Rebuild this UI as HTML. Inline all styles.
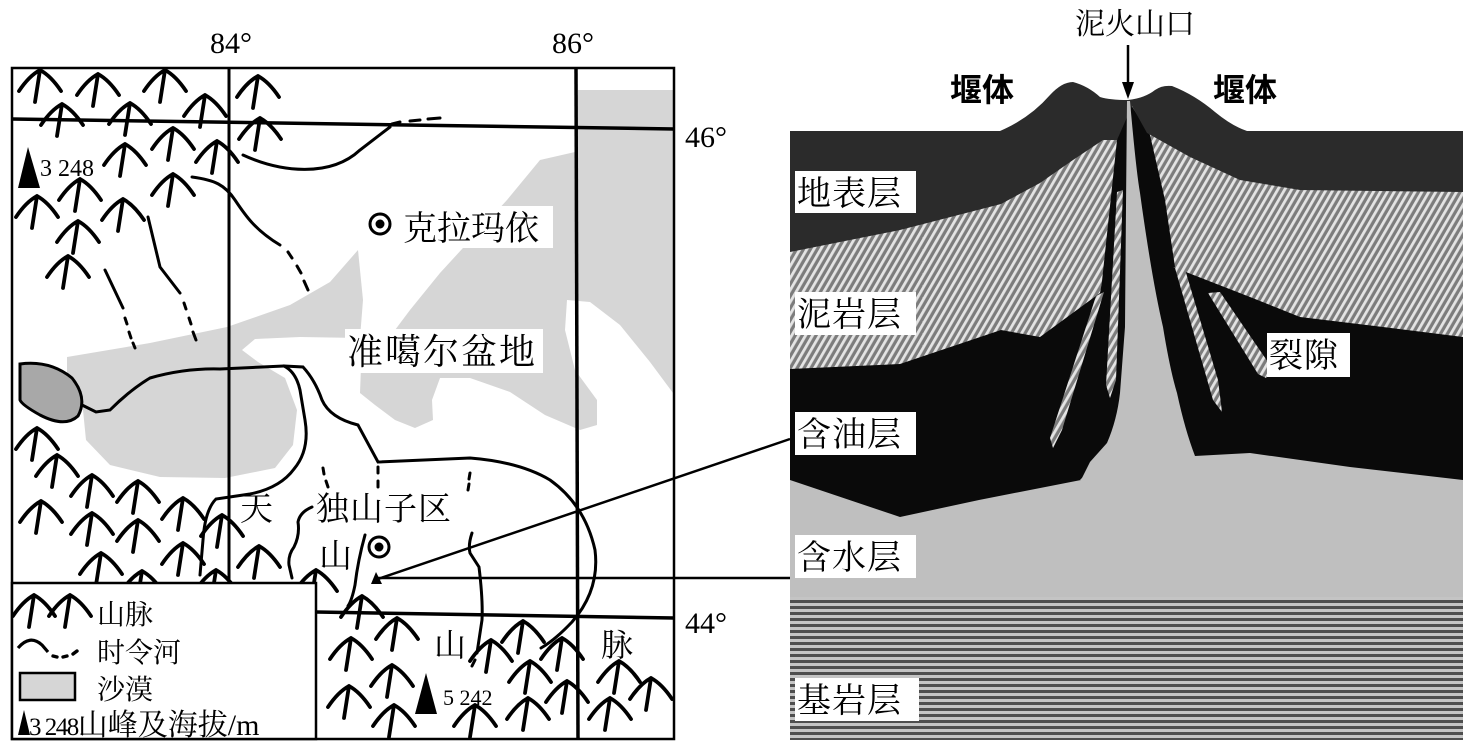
<!DOCTYPE html>
<html><head><meta charset="utf-8">
<style>
html,body{margin:0;padding:0;background:#fff;}
svg{display:block;}
text{font-family:"Liberation Serif","Noto Serif CJK SC",serif;fill:#000;}
.cjk{font-family:"Liberation Serif","Noto Serif CJK SC","Noto Sans CJK SC",serif;}
.sans{font-family:"Liberation Sans","Noto Sans CJK SC",sans-serif;}
</style></head>
<body>
<svg width="1470" height="750" viewBox="0 0 1470 750" xmlns="http://www.w3.org/2000/svg">
<defs>
<pattern id="hatch" width="6" height="6" patternUnits="userSpaceOnUse" patternTransform="rotate(30)">
<rect width="6" height="6" fill="#7c7c7c"/>
<rect x="0" y="0" width="2.8" height="6" fill="#e4e4e4"/>
</pattern>
<pattern id="bed" width="10" height="6" patternUnits="userSpaceOnUse">
<rect width="10" height="6" fill="#c4c4c4"/>
<rect y="0" width="10" height="3" fill="#4e4e4e"/>
</pattern>
<g id="mt"><path d="M-21,17 Q-11,2 0,-4 Q11,2 21,17 M0,-4 L-5,28" fill="none" stroke="#000" stroke-width="3.8" stroke-linecap="round"/></g>
</defs>

<!-- ============ MAP ============ -->
<g fill="#d6d6d6">
<path d="M67,357 L150,343 L227,327 L290,305 L330,282 L358,250 L363,300 L360,338 L300,337 L255,339 L242,350 L258,362 L285,378 L297,410 L293,445 L275,468 L225,478 L160,477 L110,465 L86,440 L82,400 L67,385 Z"/>
<path d="M410,310 L440,273 L507,200 L540,160 L575,152 L578,90 L673,90 L673,393 L650,362 L620,325 L590,302 L567,300 L565,330 L575,370 L597,400 L597,425 L580,430 L545,415 L510,392 L470,378 L440,378 L432,400 L433,420 L415,428 L395,420 L375,405 L360,393 L362,340 L380,335 L395,330 Z"/>
</g>
<path d="M20,364 Q50,360 72,378 Q88,398 78,416 Q65,428 40,415 Q22,405 20,400 Z" fill="#a8a8a8" stroke="#000" stroke-width="3"/>

<g stroke="#000" fill="none">
<rect x="12" y="68" width="662" height="671" stroke-width="2.5"/>
<line x1="12" y1="119" x2="674" y2="129" stroke-width="3.5"/>
<line x1="229" y1="68" x2="229" y2="583" stroke-width="3"/>
<line x1="576" y1="68" x2="578" y2="739" stroke-width="3.5"/>
<line x1="316" y1="612" x2="674" y2="618" stroke-width="3.5"/>
</g>

<g stroke="#000" fill="none" stroke-width="3" stroke-linecap="round">
<path d="M243,155 C280,172 330,178 360,150 L390,127"/>
<path d="M392,124 L400,122 M410,121 L420,120 M428,119 L440,118"/>
<path d="M192,177 C215,180 225,185 235,200 C245,215 255,230 280,245"/>
<path d="M288,252 L292,258 M297,266 L301,273 M304,281 L308,290"/>
<path d="M148,217 L160,267 L180,293"/>
<path d="M184,303 L186,309 M189,318 L191,324 M193,332 L196,340"/>
<path d="M105,270 L123,308"/>
<path d="M125,318 L127,324 M129,332 L131,338 M133,343 L135,348"/>
<path d="M82,405 L96,412 L110,410 Q130,390 150,378 Q185,368 220,369 L284,366"/>
<path d="M284,366 Q296,372 300,390 L305,420 Q310,450 294,469 Q280,488 250,494 L216,499 Q205,510 203,540 L200,575"/>
<path d="M284,366 L303,367 Q315,380 322,400 Q330,418 358,425 L378,462 Q420,460 470,458 Q520,462 550,480 Q585,505 595,550 Q600,590 572,622 Q555,640 541,648"/>
<path d="M312,507 Q300,512 298,522 Q300,535 294,547 Q288,555 289,565 L292,578"/>
<path d="M323,468 L324,474 M326,481 L328,487"/>
<path d="M378,467 L378,473 M378,481 L378,487"/>
<path d="M470,473 L469,479 M469,484 L468,490"/>
<path d="M472,533 Q468,545 470,553 L479,567 Q483,600 482,620 L477,653"/>
<path d="M475,660 L472,666"/>
<path d="M365,535 Q358,560 355,585 Q352,600 348,606"/>
</g>

<g>
<use href="#mt" x="40" y="74"/><use href="#mt" x="98" y="78"/><use href="#mt" x="165" y="74"/>
<use href="#mt" x="62" y="108"/><use href="#mt" x="130" y="107"/><use href="#mt" x="205" y="99"/>
<use href="#mt" x="258" y="80"/><use href="#mt" x="260" y="122"/><use href="#mt" x="173" y="132"/>
<use href="#mt" x="217" y="145"/><use href="#mt" x="125" y="148"/><use href="#mt" x="80" y="183"/>
<use href="#mt" x="173" y="178"/><use href="#mt" x="37" y="200"/><use href="#mt" x="123" y="203"/>
<use href="#mt" x="78" y="225"/><use href="#mt" x="68" y="260"/>
<use href="#mt" x="37" y="432"/><use href="#mt" x="57" y="459"/><use href="#mt" x="92" y="479"/>
<use href="#mt" x="138" y="485"/><use href="#mt" x="183" y="502"/><use href="#mt" x="41" y="505"/>
<use href="#mt" x="92" y="517"/><use href="#mt" x="138" y="524"/><use href="#mt" x="183" y="547"/>
<use href="#mt" x="101" y="557"/><use href="#mt" x="222" y="519"/><use href="#mt" x="259" y="550"/>
<use href="#mt" x="142" y="575"/><use href="#mt" x="216" y="574"/><use href="#mt" x="316" y="574"/>
<use href="#mt" x="362" y="600"/><use href="#mt" x="351" y="642"/><use href="#mt" x="397" y="622"/>
<use href="#mt" x="523" y="625"/><use href="#mt" x="562" y="642"/><use href="#mt" x="491" y="644"/>
<use href="#mt" x="619" y="665"/><use href="#mt" x="651" y="682"/><use href="#mt" x="530" y="665"/>
<use href="#mt" x="392" y="669"/><use href="#mt" x="349" y="690"/><use href="#mt" x="567" y="685"/>
<use href="#mt" x="610" y="702"/><use href="#mt" x="528" y="702"/><use href="#mt" x="475" y="709"/>
<use href="#mt" x="394" y="709"/>
</g>

<rect x="12" y="583" width="304" height="156" fill="#fff" stroke="#000" stroke-width="2.5"/>
<use href="#mt" x="34" y="599"/><use href="#mt" x="70" y="599"/>
<path d="M18,648 Q30,634 42,645 L48,652" fill="none" stroke="#000" stroke-width="3.2"/>
<path d="M53,656 L57,657 M63,657 L67,656 M73,654 L77,651" fill="none" stroke="#000" stroke-width="3.4" stroke-linecap="round"/>
<rect x="20" y="673" width="55" height="27" fill="#d6d6d6" stroke="#000" stroke-width="2.5"/>
<text x="97" y="624" class="cjk" font-size="28">山脉</text>
<text x="97" y="662" class="cjk" font-size="28">时令河</text>
<text x="97" y="699" class="cjk" font-size="28">沙漠</text>
<path d="M18,735 L24,710 L30,735 Z" fill="#000"/>
<text x="29" y="735" font-size="25" letter-spacing="-1.5">3 248<tspan class="cjk" font-size="30" letter-spacing="0">山峰及海拔/m</tspan></text>

<path d="M18,188 L28,147 L40,188 Z" fill="#000"/>
<text x="40" y="176" font-size="24">3 248</text>
<path d="M415,714 L426,673 L437,714 Z" fill="#000"/>
<text x="443" y="705" font-size="22">5 242</text>

<rect x="403" y="206" width="150" height="42" fill="#fff"/>
<circle cx="380" cy="224" r="10" fill="#fff" stroke="#000" stroke-width="3"/>
<circle cx="380" cy="224" r="4.5" fill="#000"/>
<text x="403" y="240" class="cjk" font-size="34">克拉玛依</text>
<rect x="345" y="329" width="198" height="44" fill="#fff"/>
<text x="347" y="364" class="cjk" font-size="36" letter-spacing="2">准噶尔盆地</text>
<text x="316" y="520" class="cjk" font-size="33" letter-spacing="1">独山子区</text>
<text x="240" y="520" class="cjk" font-size="33">天</text>
<text x="319" y="567" class="cjk" font-size="33">山</text>
<circle cx="379" cy="547" r="10" fill="#fff" stroke="#000" stroke-width="3"/>
<circle cx="379" cy="547" r="4.5" fill="#000"/>
<path d="M371,584 L376,572 L382,584 Z" fill="#000"/>
<text x="434" y="656" class="cjk" font-size="32">山</text>
<text x="601" y="656" class="cjk" font-size="32">脉</text>

<text x="210" y="53" font-size="30">84°</text>
<text x="552" y="53" font-size="30">86°</text>
<text x="685" y="147" font-size="30">46°</text>
<text x="685" y="633" font-size="30">44°</text>

<line x1="378" y1="578" x2="790" y2="578" stroke="#000" stroke-width="2.5"/>
<line x1="378" y1="579" x2="790" y2="439" stroke="#000" stroke-width="2.5"/>

<!-- ============ SECTION ============ -->
<rect x="790" y="131" width="673" height="609" fill="#bfbfbf"/>
<rect x="790" y="597" width="673" height="143" fill="url(#bed)"/>
<path d="M790,131 H1463 V480 L1350,467 L1250,453 L1195,456 L1107,443 L1090,462 L1081,480 L979,500 L900,517 L790,480 Z" fill="#0a0a0a"/>
<path d="M790,131 H1463 V337 L1383,327 L1300,317 L1250,297 L1173,267 L1150,180 L1132,130 L1118,200 L1100,293 L1040,337 L1001,330 L900,364 L790,369 Z" fill="url(#hatch)"/>
<path d="M1117,140 L1128,100 L1150,135 L1165,200 L1175,267 L1150,270 Q1132,200 1128,140 Q1122,220 1112,300 L1100,300 Z" fill="#0a0a0a"/>
<path d="M790,131 L1000,131 Q1030,118 1050,95 Q1062,82 1073,82 Q1088,86 1100,97 Q1110,100 1128,100 Q1145,98 1155,90 Q1162,85 1172,86 Q1195,95 1215,112 Q1232,126 1247,131 L1463,131 V192 L1300,190 L1240,180 L1190,157 L1147,133 L1132,106 L1117,140 L1103,140 L1073,160 L1040,183 L1001,204 L900,230 L790,252 Z" fill="#2b2b2b"/>
<path d="M1127,101 L1130,101 Q1136,170 1140,193 Q1152,280 1163,327 Q1170,370 1177,393 Q1185,430 1195,456 L1200,480 L1080,480 Q1100,460 1107,443 Q1117,420 1120,393 Q1124,340 1125,327 Q1126,200 1127,101 Z" fill="#bfbfbf"/>
<path d="M1096,296 L1104,292 L1062,430 L1053,448 L1050,438 Z" fill="url(#hatch)"/>
<path d="M1117,192 L1123,190 L1116,380 L1110,398 L1106,385 Z" fill="url(#hatch)"/>
<path d="M1175,268 L1184,266 L1218,380 L1222,412 L1213,400 Z" fill="url(#hatch)"/>
<path d="M1208,293 L1220,292 L1272,368 L1266,378 L1258,374 Z" fill="url(#hatch)"/>

<g font-size="34">
<rect x="795" y="171" width="121" height="42" fill="#fff"/><text x="797" y="205" class="cjk" letter-spacing="1">地表层</text>
<rect x="795" y="292" width="121" height="43" fill="#fff"/><text x="797" y="326" class="cjk" letter-spacing="1">泥岩层</text>
<rect x="795" y="412" width="121" height="43" fill="#fff"/><text x="797" y="446" class="cjk" letter-spacing="1">含油层</text>
<rect x="795" y="535" width="121" height="43" fill="#fff"/><text x="797" y="569" class="cjk" letter-spacing="1">含水层</text>
<rect x="795" y="678" width="124" height="43" fill="#fff"/><text x="797" y="712" class="cjk" letter-spacing="1">基岩层</text>
<rect x="1267" y="333" width="83" height="44" fill="#fff"/><text x="1269" y="367" class="cjk" letter-spacing="1">裂隙</text>
</g>
<text x="950" y="101" class="sans" font-size="32" font-weight="bold">堰体</text>
<text x="1213" y="101" class="sans" font-size="32" font-weight="bold">堰体</text>
<text x="1075" y="34" class="cjk" font-size="30">泥火山口</text>
<line x1="1128" y1="45" x2="1128" y2="86" stroke="#000" stroke-width="2.5"/>
<path d="M1122,82 L1128,99 L1134,82 Z" fill="#000"/>
</svg>
</body></html>
